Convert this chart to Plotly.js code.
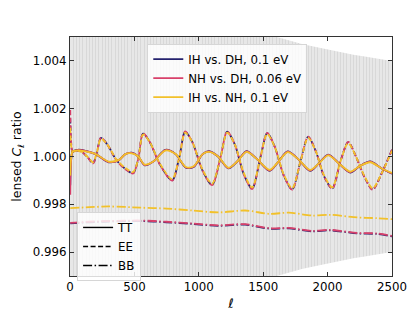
<!DOCTYPE html>
<html><head><meta charset="utf-8">
<script src="https://cdn.plot.ly/plotly-3.0.1.min.js"></script>
<style>html,body{margin:0;padding:0;background:#fff}#c{width:415px;height:311px}</style>
</head><body><div id="c"></div>
<script>
// ---- data ----
const models = ["IH vs. DH, 0.1 eV", "NH vs. DH, 0.06 eV", "IH vs. NH, 0.1 eV"];
const colors = ["#24226e", "#d8406a", "#f2c12a"];
const spectra = ["TT", "EE", "BB"];

// lensed TT ratio (small oscillation, solid)
const ttL = [2, 8, 20, 60, 120, 200, 300, 380, 430, 480, 530, 580, 650, 740, 820, 900, 960, 1030, 1080, 1150, 1230, 1300, 1370, 1450, 1550, 1620, 1690, 1770, 1865, 1930, 2005, 2090, 2176, 2250, 2331, 2420, 2500];
const ttIHDH = [0.9988, 0.9998, 1.0002, 1.00028, 1.00024, 1.0001, 0.99976, 0.99985, 1.0001, 1.00016, 1.0000, 0.99963, 0.9998, 1.00028, 1.0001, 0.99953, 0.99956, 1.0001, 1.00022, 1.0000, 0.9995, 0.9998, 1.00022, 0.9999, 0.9994, 0.9998, 1.00021, 0.9999, 0.9994, 0.9997, 1.00008, 0.9997, 0.99933, 0.9996, 0.99979, 0.9995, 0.99928];
const ttNHDH = [0.9984, 0.9998, 1.0002, 1.00027, 1.00023, 1.0001, 0.99977, 0.99985, 1.0001, 1.00015, 1.0000, 0.99964, 0.9998, 1.00027, 1.0001, 0.99954, 0.99957, 1.0001, 1.00021, 1.0000, 0.99951, 0.9998, 1.00021, 0.9999, 0.99941, 0.9998, 1.0002, 0.9999, 0.99941, 0.9997, 1.00007, 0.9997, 0.99934, 0.9996, 0.99978, 0.9995, 0.99929];
const ttIHNH = [0.9992, 0.9999, 1.0002, 1.00025, 1.00021, 1.0001, 0.99979, 0.99986, 1.0001, 1.00013, 1.0000, 0.99966, 0.9998, 1.00025, 1.0001, 0.99956, 0.99959, 1.0001, 1.00019, 1.0000, 0.99953, 0.9998, 1.00019, 0.9999, 0.99944, 0.9998, 1.00018, 0.9999, 0.99944, 0.9997, 1.00005, 0.9997, 0.99937, 0.9996, 0.99976, 0.9995, 0.99931];

// lensed EE ratio (large oscillation, dashed)
const eeL = [2, 8, 20, 45, 90, 140, 179, 210, 240, 290, 360, 430, 490, 530, 567, 620, 700, 793, 850, 894, 950, 1030, 1103, 1170, 1220, 1280, 1350, 1414, 1480, 1531, 1590, 1660, 1725, 1790, 1849, 1910, 1970, 2036, 2100, 2160, 2220, 2290, 2350, 2420, 2500];
const eeIHDH = [1.0016, 1.0006, 1.0002, 1.00025, 1.0002, 0.99995, 0.99972, 1.0002, 1.00078, 1.0005, 0.99985, 0.99948, 0.9993, 0.9999, 1.00096, 1.0006, 0.99965, 0.9990, 1.0000, 1.00104, 1.0006, 0.9994, 0.99881, 1.0000, 1.00104, 1.0005, 0.99925, 0.99865, 1.0000, 1.00098, 1.0004, 0.9992, 0.99862, 0.9998, 1.00082, 1.0002, 0.9992, 0.99866, 0.9998, 1.0006, 1.0000, 0.9991, 0.99862, 0.9993, 1.00028];
const eeNHDH = [1.00195, 1.0007, 1.0002, 1.00026, 1.0002, 0.99994, 0.99971, 1.0002, 1.00079, 1.0005, 0.99984, 0.99947, 0.99929, 0.9999, 1.00097, 1.0006, 0.99964, 0.99899, 1.0000, 1.00105, 1.0006, 0.9994, 0.9988, 1.0000, 1.00105, 1.0005, 0.99924, 0.99864, 1.0000, 1.00099, 1.0004, 0.9992, 0.99861, 0.9998, 1.00083, 1.0002, 0.9992, 0.99865, 0.9998, 1.00061, 1.0000, 0.9991, 0.99861, 0.9993, 1.00029];
const eeIHNH = [1.0012, 1.0005, 1.0002, 1.00023, 1.0002, 0.99997, 0.99976, 1.0002, 1.00074, 1.0005, 0.99988, 0.99952, 0.99935, 0.9999, 1.00092, 1.0006, 0.99968, 0.99905, 1.0000, 1.001, 1.0006, 0.99944, 0.99886, 1.0000, 1.001, 1.0005, 0.9993, 0.9987, 1.0000, 1.00094, 1.0004, 0.99924, 0.99867, 0.9998, 1.00078, 1.0002, 0.99924, 0.99871, 0.9998, 1.00056, 1.0000, 0.99914, 0.99867, 0.9993, 1.00024];

// lensed BB ratio (dash-dot)
const bbL = [2, 150, 300, 550, 750, 950, 1150, 1360, 1550, 1700, 1880, 2020, 2230, 2380, 2500];
const bbIHDH = [0.99720, 0.99725, 0.99728, 0.99730, 0.99725, 0.99718, 0.99710, 0.99715, 0.99698, 0.99699, 0.99687, 0.99691, 0.99678, 0.99676, 0.99666];
const bbNHDH = [0.99722, 0.99727, 0.99730, 0.99732, 0.99727, 0.99720, 0.99712, 0.99717, 0.99700, 0.99701, 0.99689, 0.99693, 0.99680, 0.99678, 0.99668];
const bbIHNH = [0.99784, 0.99788, 0.99791, 0.99786, 0.99782, 0.99774, 0.99766, 0.99774, 0.99760, 0.99765, 0.99753, 0.99756, 0.99745, 0.99742, 0.99738];

// binned cosmic-variance band edges (grey region)
const bandL = [1500, 1600, 1700, 1800, 1900, 2000, 2100, 2200, 2300, 2400, 2500];
const bandUp = [1.00516, 1.0050, 1.00485, 1.00471, 1.00459, 1.00447, 1.00436, 1.00426, 1.00417, 1.00408, 1.0040];
const bandLo = [0.99484, 0.9950, 0.99515, 0.99529, 0.99541, 0.99553, 0.99564, 0.99574, 0.99583, 0.99592, 0.9960];

const xTicks = [0, 500, 1000, 1500, 2000, 2500];
const yTicks = [0.996, 0.998, 1.000, 1.002, 1.004];

// ---- styles ----
const FONT = "DejaVu Sans, sans-serif";
const dashes = {TT: "solid", EE: "5px,2.5px", BB: "9px,2.5px,1.5px,2.5px"};
const series = [
  {TT: [ttL, ttIHDH], EE: [eeL, eeIHDH], BB: [bbL, bbIHDH]},
  {TT: [ttL, ttNHDH], EE: [eeL, eeNHDH], BB: [bbL, bbNHDH]},
  {TT: [ttL, ttIHNH], EE: [eeL, eeIHNH], BB: [bbL, bbIHNH]}
];

const traces = [];
// white masks outside the band
traces.push({x: bandL.concat([bandL[bandL.length-1], bandL[0]]), y: bandUp.concat([1.01, 1.01]),
  mode: "lines", fill: "toself", fillcolor: "#ffffff", line: {width: 0, color: "#ffffff"},
  showlegend: false, hoverinfo: "skip"});
traces.push({x: bandL.concat([bandL[bandL.length-1], bandL[0]]), y: bandLo.concat([0.99, 0.99]),
  mode: "lines", fill: "toself", fillcolor: "#ffffff", line: {width: 0, color: "#ffffff"},
  showlegend: false, hoverinfo: "skip"});

["BB", "EE", "TT"].forEach(sp => {
  series.forEach((s, i) => {
    traces.push({x: s[sp][0], y: s[sp][1], mode: "lines",
      line: {color: colors[i], width: 1.8, dash: dashes[sp], shape: "spline", smoothing: 0.8},
      name: models[i], showlegend: sp === "TT", legend: "legend", hoverinfo: "skip"});
  });
});
// spectrum-style legend entries
spectra.forEach(sp => {
  traces.push({x: [null], y: [null], mode: "lines", line: {color: "#000", width: 1.4, dash: dashes[sp]},
    name: sp, legend: "legend2", showlegend: true});
});

const axBase = {ticks: "inside", ticklen: 4, tickwidth: 1, tickcolor: "#333", mirror: "ticks",
  showline: true, linecolor: "#333", linewidth: 1, zeroline: false,
  tickfont: {family: FONT, size: 11.8, color: "#000"}};

const layout = {
  width: 415, height: 311,
  margin: {l: 70, r: 23, t: 37, b: 35},
  paper_bgcolor: "#fff", plot_bgcolor: "#e7e7e7",
  font: {family: FONT, size: 12, color: "#000"},
  xaxis: Object.assign({}, axBase, {range: [0, 2500], tickvals: xTicks, ticktext: xTicks.map(String),
    showgrid: true, gridcolor: "#d8d8d8", gridwidth: 1,
    minor: {dtick: 25, tick0: 0, showgrid: true, gridcolor: "#d8d8d8", gridwidth: 1, ticks: ""},
    title: {text: "<i>ℓ</i>", font: {family: FONT, size: 13}, standoff: 6}}),
  yaxis: Object.assign({}, axBase, {range: [0.995, 1.005], tickvals: yTicks, ticktext: yTicks.map(v => v.toFixed(3)),
    showgrid: false,
    title: {text: "lensed <i>C</i><sub><i>ℓ</i></sub> ratio", font: {family: FONT, size: 12.5}, standoff: 8}}),
  legend: {x: 0.24, y: 0.972, xanchor: "left", yanchor: "top", bgcolor: "rgba(255,255,255,0.82)",
    bordercolor: "#d6d6d6", borderwidth: 1, font: {family: FONT, size: 11.8, color: "#000"},
    tracegroupgap: 0, itemwidth: 30},
  legend2: {x: 0.022, y: 0.268, xanchor: "left", yanchor: "top", bgcolor: "rgba(255,255,255,0.82)",
    bordercolor: "#d6d6d6", borderwidth: 1, font: {family: FONT, size: 11.8, color: "#000"},
    tracegroupgap: 0, itemwidth: 30},
  showlegend: true
};

Plotly.newPlot("c", traces, layout, {displayModeBar: false, staticPlot: true});
</script></body></html>
